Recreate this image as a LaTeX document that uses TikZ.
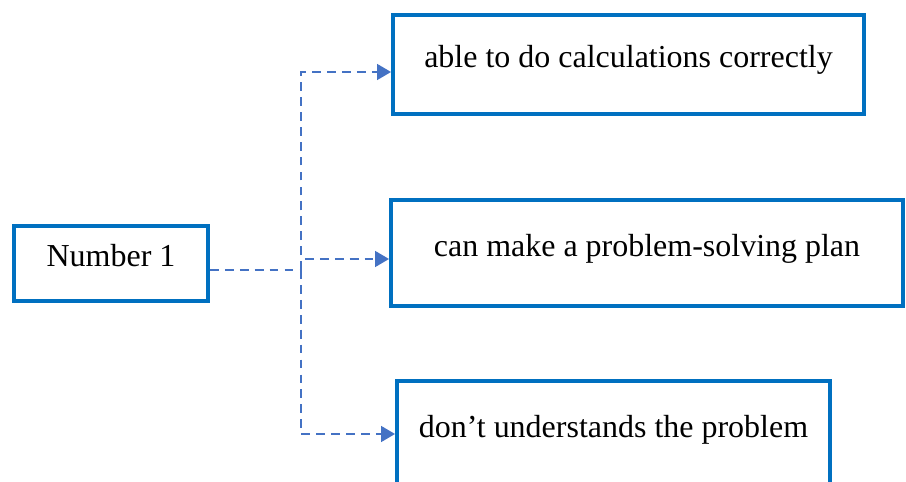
\documentclass[tikz,border=0pt]{standalone}
\usepackage{fontspec}
\setmainfont{Liberation Serif}
\definecolor{BoxBlue}{HTML}{0070C0}
\definecolor{LinkBlue}{HTML}{4472C4}
\usetikzlibrary{positioning,arrows.meta}

\begin{document}
\begin{tikzpicture}[x=0.02cm, y=-0.02cm,
        block/.style={rectangle, draw=BoxBlue, line width=2.2pt, align=center, fill=white,
            inner sep=0pt, text height=0.75em, text depth=0.4em,
            font=\fontsize{18.2}{22}\selectfont},
        link/.style={LinkBlue, line width=1.3pt, dash pattern=on 5pt off 3.5pt},
        arrow/.style={link, -{Triangle[length=8pt, width=9pt]}}]

    \useasboundingbox (0,0) rectangle (906,482);

    \node[block, minimum width=194*0.02cm, minimum height=75*0.02cm] (n1) at (111,263.5) {Number 1};
    \node[block, minimum width=471*0.02cm, minimum height=99*0.02cm] (a1) at (628.5,64.5) {able to do calculations correctly};
    \node[block, minimum width=512*0.02cm, minimum height=106*0.02cm] (a2) at (647,253) {can make a problem-solving plan};
    \node[block, minimum width=433*0.02cm, minimum height=106*0.02cm] (a3) at (613.5,434) {don’t understands the problem};

    \coordinate (split) at (301,270);
    \draw[link] (n1.east |- split) -- (split);
    \draw[arrow] (split) |- ([yshift=-0.15cm]a1.west);
    \draw[arrow] (split) |- ([yshift=-0.12cm]a2.west);
    \draw[arrow] (split) |- (a3.west);
\end{tikzpicture}
\end{document}
